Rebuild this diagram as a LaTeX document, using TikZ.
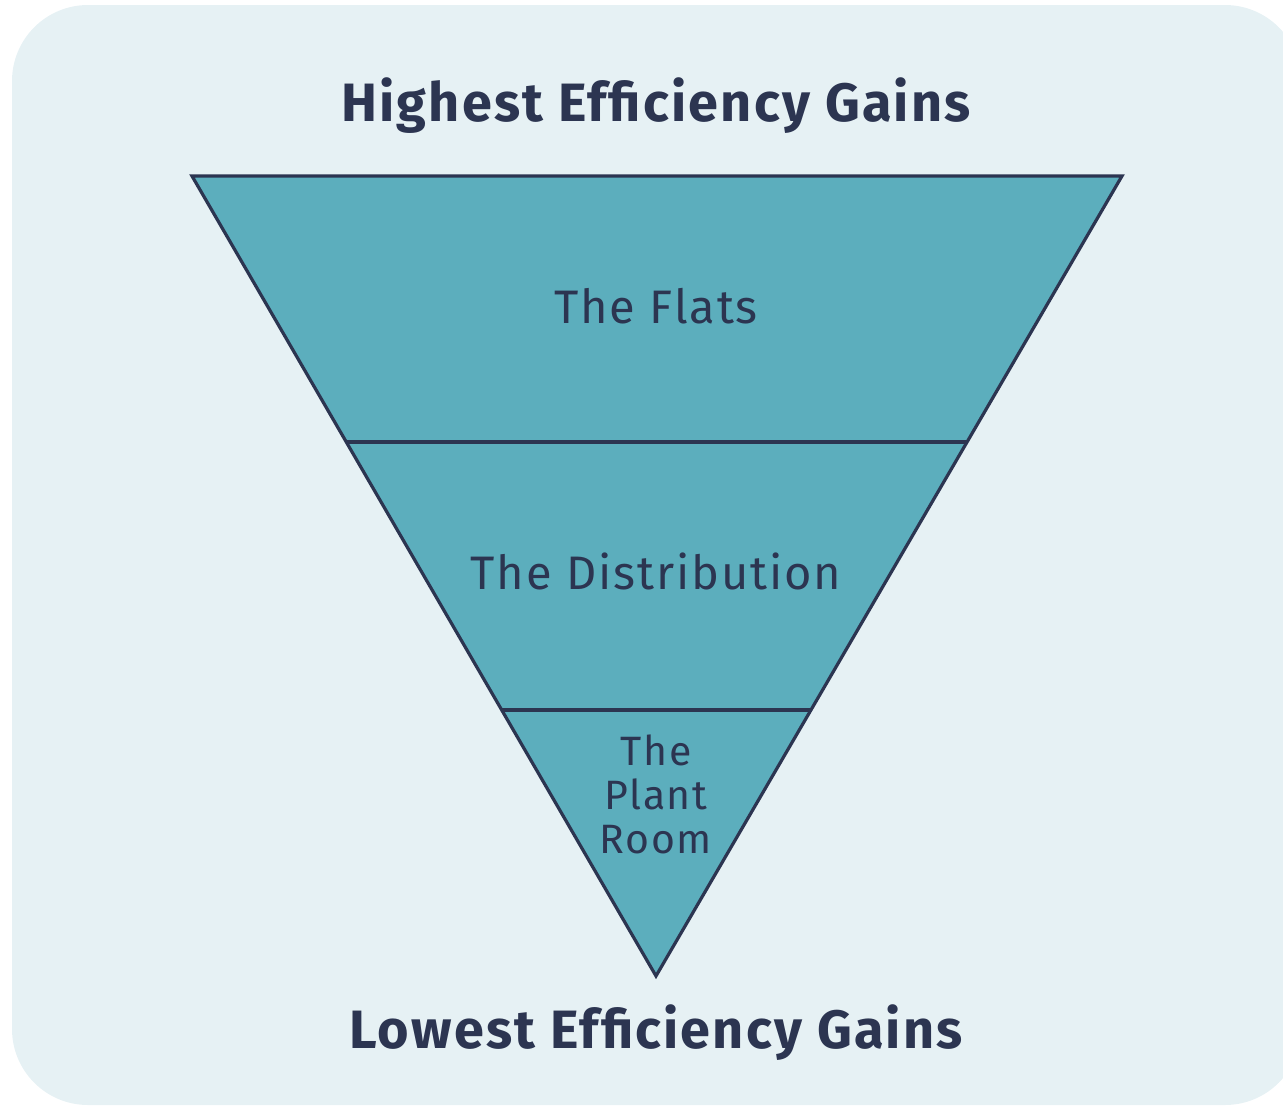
\documentclass[tikz,border=0pt]{standalone}
\usepackage{fontspec}
\setmainfont{Fira Sans}
\newfontfamily\spaced[LetterSpace=4]{Fira Sans}
\usetikzlibrary{calc}
\definecolor{panel}{HTML}{E6F1F4}
\definecolor{funnel}{HTML}{5CAEBD}
\definecolor{ink}{HTML}{2C3551}
\tikzset{
  heading/.style={font=\spaced\fontsize{54}{60}\selectfont\bfseries, text=ink, anchor=base, inner sep=0pt},
  tier/.style={font=\spaced\fontsize{47}{52}\selectfont, text=ink, anchor=base, inner sep=0pt},
  tiersmall/.style={tier, font=\spaced\fontsize{41}{44}\selectfont},
  outline/.style={draw=ink, line width=3.2pt, line join=miter}
}
\begin{document}
\begin{tikzpicture}[x=1pt, y=-1pt]
  \useasboundingbox (0,0) rectangle (1283,1106);
  \clip (0,0) rectangle (1283,1106);
  % background panel
  \fill[panel, rounded corners=76pt] (12,5) rectangle (1301,1105);
  % funnel corners
  \coordinate (tl) at (192,176);
  \coordinate (tr) at (1122,176);
  \coordinate (ap) at (656,976);
  % tier boundaries on the funnel edges
  \coordinate (l1) at ($(tl)!0.3325!(ap)$);
  \coordinate (r1) at ($(tr)!0.3325!(ap)$);
  \coordinate (l2) at ($(tl)!0.6675!(ap)$);
  \coordinate (r2) at ($(tr)!0.6675!(ap)$);
  \filldraw[fill=funnel, outline] (tl) -- (tr) -- (ap) -- cycle;
  \draw[outline] (l1) -- (r1);
  \draw[outline] (l2) -- (r2);
  % labels
  \node[heading] (top) at (656,121) {Highest Efficiency Gains};
  \node[heading] (bottom) at (656,1048) {Lowest Efficiency Gains};
  \node[tier] (flats) at (656,323) {The Flats};
  \node[tier] (dist) at (656,589) {The Distribution};
  \node[tiersmall] (plant1) at (656,765) {The};
  \node[tiersmall] (plant2) at (656,809) {Plant};
  \node[tiersmall] (plant3) at (656,853) {Room};
\end{tikzpicture}
\end{document}
